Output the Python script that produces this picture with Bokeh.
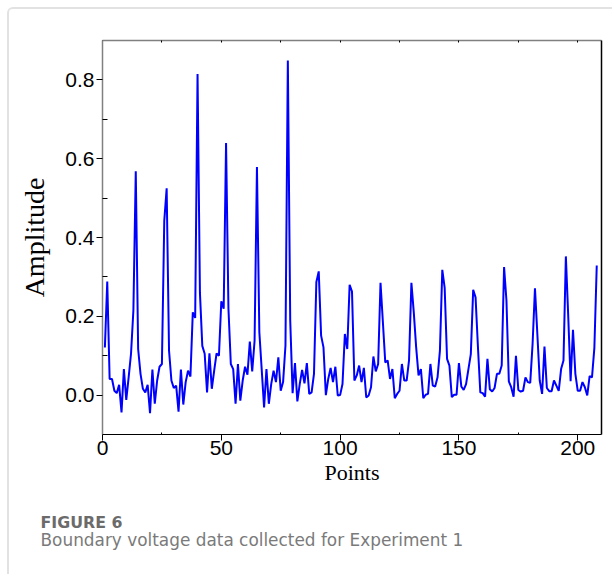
from bokeh.plotting import figure
from bokeh.models import (LinearAxis, FixedTicker, Range1d, Title,
                          PrintfTickFormatter, ColumnDataSource)
from bokeh.embed import file_html
from bokeh.resources import INLINE

# ---- data ----
amplitude = [
    0.121, 0.288, 0.041, 0.041, 0.011, 0.005, 0.026, -0.044, 0.066, -0.012,
    0.045, 0.105, 0.215, 0.568, 0.117, 0.054, 0.016, 0.007, 0.026, -0.046,
    0.065, -0.022, 0.037, 0.072, 0.079, 0.443, 0.525, 0.113, 0.037, 0.018,
    0.024, -0.042, 0.065, -0.024, 0.033, 0.062, 0.047, 0.210, 0.196, 0.815,
    0.260, 0.125, 0.105, 0.007, 0.106, 0.016, 0.062, 0.106, 0.100, 0.238,
    0.219, 0.640, 0.220, 0.079, 0.066, -0.022, 0.079, -0.014, 0.037, 0.072,
    0.052, 0.136, 0.060, 0.138, 0.579, 0.160, 0.065, -0.031, 0.066, -0.022,
    0.028, 0.062, 0.033, 0.096, 0.011, 0.033, 0.126, 0.849, 0.190, 0.005,
    0.081, -0.016, 0.028, 0.064, 0.030, 0.081, 0.003, 0.007, 0.054, 0.287,
    0.314, 0.151, 0.121, 0.000, 0.041, 0.069, 0.033, 0.072, -0.001, 0.000,
    0.028, 0.155, 0.117, 0.280, 0.263, 0.037, 0.050, 0.075, 0.033, 0.069,
    -0.006, -0.001, 0.020, 0.098, 0.060, 0.079, 0.285, 0.185, 0.083, 0.088,
    0.041, 0.066, -0.008, 0.003, 0.011, 0.079, 0.037, 0.037, 0.088, 0.285,
    0.210, 0.121, 0.050, 0.066, -0.008, 0.001, 0.003, 0.079, 0.024, 0.022,
    0.045, 0.113, 0.318, 0.272, 0.092, 0.075, -0.005, 0.001, 0.001, 0.081,
    0.022, 0.013, 0.028, 0.066, 0.104, 0.267, 0.248, 0.122, 0.007, 0.005,
    -0.004, 0.092, 0.015, 0.009, 0.018, 0.054, 0.054, 0.075, 0.325, 0.240,
    0.035, 0.020, -0.004, 0.100, 0.013, 0.009, 0.011, 0.045, 0.033, 0.031,
    0.130, 0.271, 0.155, 0.037, 0.003, 0.123, 0.018, 0.010, 0.010, 0.037,
    0.024, 0.011, 0.066, 0.088, 0.352, 0.200, 0.035, 0.166, 0.054, 0.011,
    0.011, 0.033, 0.020, -0.001, 0.048, 0.045, 0.120, 0.329,
]
points = list(range(1, len(amplitude) + 1))

x_ticks = [0, 50, 100, 150, 200]
x_minor = [25, 75, 125, 175]
y_ticks = [0.0, 0.2, 0.4, 0.6, 0.8]
y_minor = [-0.1, 0.1, 0.3, 0.5, 0.7]
x_label = "Points"
y_label = "Amplitude"
fig_title = "FIGURE 6"
fig_caption = "Boundary voltage data collected for Experiment 1"

OFF = 9                      # page border (7px margin + 2px line)
W, H = 614 - OFF, 576 - OFF  # figure size inside the border
FL, FR, FT, FB = 102 - OFF, 601 - OFF, 40 - OFF, 434 - OFF  # frame edges

p = figure(width=W, height=H, output_backend="svg", toolbar_location=None,
           x_range=Range1d(0, 210), y_range=Range1d(-0.1, 0.9),
           x_axis_location="below", y_axis_location="left",
           min_border_left=FL, min_border_right=W - FR,
           min_border_top=FT, min_border_bottom=H - FB,
           margin=(7, 0, 0, 7),
           styles={"border-top": "2px solid #e2e2e2",
                   "border-left": "2px solid #e2e2e2",
                   "border-top-left-radius": "6px"})
p.outline_line_color = None
p.grid.visible = False
p.background_fill_color = "white"
p.border_fill_color = "white"

src = ColumnDataSource(dict(x=points, y=amplitude))
p.line("x", "y", source=src, line_color="#0000ff", line_width=2)

# bottom axis
xa = p.xaxis[0]
xa.ticker = FixedTicker(ticks=x_ticks, minor_ticks=x_minor)
xa.axis_line_color = "black"
xa.axis_line_width = 1.2
xa.major_tick_line_color = "black"
xa.major_tick_out = 6
xa.major_tick_in = 0
xa.minor_tick_line_color = "black"
xa.minor_tick_in = 2
xa.minor_tick_out = 0
xa.major_label_text_font = "Liberation Sans"
xa.major_label_text_font_size = "21px"
xa.major_label_text_color = "black"
xa.major_label_standoff = 0
xa.axis_label = x_label
xa.axis_label_text_font = "Liberation Serif"
xa.axis_label_text_font_style = "normal"
xa.axis_label_text_font_size = "22px"
xa.axis_label_text_color = "black"
xa.axis_label_standoff = 2

# left axis
ya = p.yaxis[0]
ya.ticker = FixedTicker(ticks=y_ticks, minor_ticks=y_minor)
ya.formatter = PrintfTickFormatter(format="%.1f")
ya.axis_line_color = "#808080"
ya.axis_line_width = 1.5
ya.major_tick_line_color = "black"
ya.major_tick_out = 6
ya.major_tick_in = 0
ya.minor_tick_line_color = "black"
ya.minor_tick_in = 5
ya.minor_tick_out = 0
ya.major_label_text_font = "Liberation Sans"
ya.major_label_text_font_size = "21px"
ya.major_label_text_color = "black"
ya.major_label_standoff = 2
ya.axis_label = y_label
ya.axis_label_text_font = "Liberation Serif"
ya.axis_label_text_font_style = "normal"
ya.axis_label_text_font_size = "28px"
ya.axis_label_text_color = "black"
ya.axis_label_standoff = 12

# top axis: gray line with tiny ticks
top_ticks = [0, 25, 50, 75, 100, 125, 150, 175, 200]
ta = LinearAxis(ticker=FixedTicker(ticks=top_ticks, minor_ticks=[]),
                major_label_overrides={t: "" for t in top_ticks},
                axis_line_color="#808080", axis_line_width=1.5,
                major_tick_line_color="black", major_tick_in=2, major_tick_out=0,
                minor_tick_line_color=None, major_label_standoff=0)
p.add_layout(ta, "above")

# right axis: plain black line
ra = LinearAxis(ticker=FixedTicker(ticks=[], minor_ticks=[]),
                axis_line_color="black", axis_line_width=1.5,
                major_tick_line_color=None, minor_tick_line_color=None)
p.add_layout(ra, "right")

# invisible spacer between the x axis and the caption
spacer = LinearAxis(ticker=FixedTicker(ticks=[100], minor_ticks=[]),
                    major_label_overrides={100: ""},
                    axis_line_color=None, major_tick_line_color=None,
                    minor_tick_line_color=None, major_tick_out=23,
                    major_tick_in=0, minor_tick_out=0, major_label_standoff=0,
                    major_label_text_font_size="1px")
p.add_layout(spacer, "below")

# caption below the chart
t1 = Title(text=fig_title, align="left", offset=40 - 102, standoff=0,
           text_font="DejaVu Sans", text_font_style="bold",
           text_font_size="15.8px", text_color="#6b6b6b", text_line_height=1.0)
t2 = Title(text=fig_caption, align="left", offset=40 - 102, standoff=-8,
           text_font="DejaVu Sans", text_font_style="normal",
           text_font_size="16.9px", text_color="#7a7a7a", text_line_height=1.0)
p.add_layout(t1, "below")
p.add_layout(t2, "below")

open("out.html", "w").write(file_html(p, INLINE))
